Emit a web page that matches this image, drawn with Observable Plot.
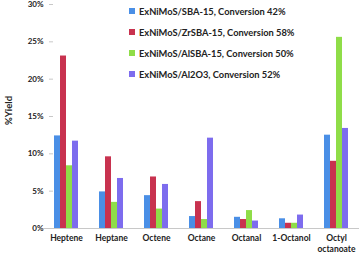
<!DOCTYPE html>
<html><head><meta charset="utf-8">
<script src="https://cdn.jsdelivr.net/npm/d3@7"></script>
<script src="https://cdn.jsdelivr.net/npm/@observablehq/plot@0.6"></script>
<style>
html,body{margin:0;padding:0;background:#fff;}
#wrap{position:relative;width:361px;height:254px;font-family:Lato,"Liberation Sans",sans-serif;}
#legend{position:absolute;left:129px;top:6px;font-weight:bold;font-size:9.3px;color:#222;}
#legend div{height:21px;display:flex;align-items:flex-start;}
#legend span.sw{display:inline-block;width:6px;height:6px;margin:2px 4px 0 0;}
</style></head>
<body><div id="wrap"><div id="legend"></div></div>
<script>
const categories = ["Heptene","Heptane","Octene","Octane","Octanal","1-Octanol","Octyl octanoate"];
const seriesNames = ["ExNiMoS/SBA-15, Conversion 42%","ExNiMoS/ZrSBA-15, Conversion 58%","ExNiMoS/AlSBA-15, Conversion 50%","ExNiMoS/Al2O3, Conversion 52%"];
const colors = ["#4a8fe6","#c8324f","#8fdd48","#7d6cee"];
const sba15   = [12.4, 4.9, 4.4, 1.6, 1.5, 1.3, 12.5];
const zrsba15 = [23.1, 9.6, 6.9, 3.6, 1.2, 0.7, 9.0];
const alsba15 = [8.4, 3.5, 2.6, 1.2, 2.4, 0.7, 25.6];
const al2o3   = [11.7, 6.7, 5.9, 12.1, 1.0, 1.8, 13.4];
const yTicks = [0,5,10,15,20,25,30];

const seriesValues = [sba15, zrsba15, alsba15, al2o3];
const data = [];
categories.forEach((c,i)=>seriesValues.forEach((vals,s)=>data.push({cat:c, series:seriesNames[s], value:vals[i]})));

const chart = Plot.plot({
  width:361, height:254,
  marginLeft:42, marginRight:1, marginTop:4, marginBottom:26,
  style:{fontFamily:"Lato, sans-serif", fontSize:"8px", fontWeight:"bold", color:"#222", background:"#fff"},
  fx:{domain:categories, paddingInner:0.42, paddingOuter:0.21, label:null},
  x:{domain:seriesNames, padding:0, axis:null},
  y:{domain:[0,30], label:null, axis:null},
  color:{domain:seriesNames, range:colors},
  marks:[
    Plot.axisY({ticks:yTicks, tickSize:4, tickPadding:6, tickFormat:d=>d+"%", stroke:"#c8c8c8", fill:"#222", label:null, line:true}),
    Plot.axisFx({anchor:"bottom", tickSize:0, tickPadding:5, label:null, lineHeight:1.3, fontSize:8.5,
      tickFormat:d=>d==="Octyl octanoate"?"Octyl\noctanoate":d}),
    Plot.barY(data,{fx:"cat", x:"series", y:"value", fill:"series"}),
    Plot.ruleY([0],{stroke:"#c8c8c8", insetLeft:-10, insetRight:-10})
  ]
});
document.getElementById("wrap").appendChild(chart);

const lg = document.getElementById("legend");
seriesNames.forEach((n,i)=>{
  const d=document.createElement("div");
  d.innerHTML=`<span class="sw" style="background:${colors[i]}"></span><span>${n}</span>`;
  lg.appendChild(d);
});
const yl=document.createElement("div");
yl.textContent="%Yield";
yl.style.cssText="position:absolute;left:-12px;top:105px;transform:rotate(-90deg);font-weight:bold;font-size:9.5px;color:#222;width:40px;text-align:center;";
document.getElementById("wrap").appendChild(yl);
</script></body></html>
